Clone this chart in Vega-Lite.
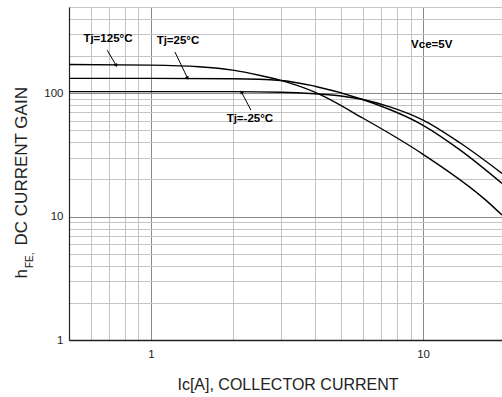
{
  "$schema": "https://vega.github.io/schema/vega-lite/v6.json",
  "width": 433,
  "height": 333,
  "autosize": {"type": "none"},
  "padding": {"left": 69, "top": 7, "right": 0, "bottom": 57},
  "background": "white",
  "config": {
    "view": {"stroke": null},
    "font": "Liberation Sans",
    "axis": {"labelFont": "Liberation Sans", "titleFont": "Liberation Sans"}
  },
  "datasets": {
    "curves": [
      {"series": "125", "ic": 0.5, "hfe": 171},
      {"series": "125", "ic": 1, "hfe": 169},
      {"series": "125", "ic": 1.5, "hfe": 164},
      {"series": "125", "ic": 2, "hfe": 154},
      {"series": "125", "ic": 2.5, "hfe": 140},
      {"series": "125", "ic": 3, "hfe": 127},
      {"series": "125", "ic": 4, "hfe": 102},
      {"series": "125", "ic": 6, "hfe": 63},
      {"series": "125", "ic": 10, "hfe": 32},
      {"series": "125", "ic": 17, "hfe": 13.6},
      {"series": "125", "ic": 19.5, "hfe": 10.3},
      {"series": "25", "ic": 0.5, "hfe": 132},
      {"series": "25", "ic": 1, "hfe": 132},
      {"series": "25", "ic": 2, "hfe": 131},
      {"series": "25", "ic": 3, "hfe": 127},
      {"series": "25", "ic": 4, "hfe": 114},
      {"series": "25", "ic": 6, "hfe": 89},
      {"series": "25", "ic": 10, "hfe": 55},
      {"series": "25", "ic": 13.7, "hfe": 34.6},
      {"series": "25", "ic": 19.5, "hfe": 18.6},
      {"series": "-25", "ic": 0.5, "hfe": 103},
      {"series": "-25", "ic": 1, "hfe": 103},
      {"series": "-25", "ic": 2, "hfe": 103},
      {"series": "-25", "ic": 3, "hfe": 102},
      {"series": "-25", "ic": 4, "hfe": 99},
      {"series": "-25", "ic": 5, "hfe": 95},
      {"series": "-25", "ic": 6, "hfe": 89},
      {"series": "-25", "ic": 7.5, "hfe": 78},
      {"series": "-25", "ic": 10, "hfe": 60.6},
      {"series": "-25", "ic": 13.7, "hfe": 39.5},
      {"series": "-25", "ic": 19.5, "hfe": 22.4}
    ],
    "labels": [
      {"text": "Tj=125°C", "x": 0.695, "y": 274},
      {"text": "Tj=25°C", "x": 1.257, "y": 264},
      {"text": "Tj=-25°C", "x": 2.31, "y": 61.7},
      {"text": "Vce=5V", "x": 10.76, "y": 247}
    ],
    "arrows": [
      {"label": "125", "x": 0.691, "y": 223, "x2": 0.744, "y2": 169},
      {"label": "25", "x": 1.225, "y": 216, "x2": 1.36, "y2": 134},
      {"label": "-25", "x": 2.33, "y": 73, "x2": 2.155, "y2": 101.5}
    ]
  },
  "resolve": {"scale": {"x": "shared", "y": "shared"}, "axis": {"x": "independent", "y": "independent"}},
  "layer": [
    {
      "data": {"name": "curves"},
      "mark": {"type": "line", "interpolate": "monotone", "color": "black", "strokeWidth": 1.4, "clip": true},
      "encoding": {
        "x": {
          "field": "ic", "type": "quantitative",
          "scale": {"type": "log", "domain": [0.5, 19.5], "nice": false},
          "axis": {
            "orient": "bottom",
            "values": [0.6, 0.7, 0.8, 0.9, 1, 2, 3, 4, 5, 6, 7, 8, 9, 10],
            "labelExpr": "datum.value == 1 ? '1' : datum.value == 10 ? '10' : ''",
            "grid": true,
            "gridColor": {"condition": {"test": "datum.value == 1 || datum.value == 10", "value": "#8a8a8a"}, "value": "#c4c4c4"},
            "gridWidth": 1,
            "ticks": false, "tickSize": 0,
            "labelPadding": 8, "labelFontSize": 11.5, "labelColor": "#222",
            "labelFlush": false, "labelOverlap": false,
            "domainColor": "#222", "domainWidth": 1.6,
            "title": "Ic[A], COLLECTOR CURRENT",
            "titleFontSize": 16, "titleFontWeight": "normal", "titleColor": "#222",
            "titleX": 218.5, "titleY": 49, "titleAlign": "center", "titleBaseline": "alphabetic"
          }
        },
        "y": {
          "field": "hfe", "type": "quantitative",
          "scale": {"type": "log", "domain": [1, 500], "nice": false},
          "axis": {
            "orient": "left",
            "values": [1, 2, 3, 4, 5, 6, 7, 8, 9, 10, 20, 30, 40, 50, 60, 70, 80, 90, 100, 200, 300, 400, 500],
            "labelExpr": "datum.value == 1 ? '1' : datum.value == 10 ? '10' : datum.value == 100 ? '100' : ''",
            "grid": true,
            "gridColor": {"condition": {"test": "datum.value == 1 || datum.value == 10 || datum.value == 100", "value": "#8a8a8a"}, "value": "#c4c4c4"},
            "gridWidth": 1,
            "ticks": false, "tickSize": 0,
            "labelPadding": 6, "labelFontSize": 11.5, "labelColor": "#222",
            "labelFlush": false, "labelOverlap": false,
            "domainColor": "#222", "domainWidth": 1.2,
            "title": "h\u00a0\u00a0\u00a0\u00a0\u00a0DC CURRENT GAIN",
            "titleFontSize": 17, "titleFontWeight": "normal", "titleColor": "#222",
            "titleAngle": -90, "titleAlign": "left", "titleBaseline": "alphabetic",
            "titleX": -42.5, "titleY": 271
          }
        },
        "detail": {"field": "series"}
      }
    },
    {
      "mark": {"type": "rule", "color": "#222", "strokeWidth": 1.2},
      "encoding": {
        "y": {
          "datum": 500, "type": "quantitative",
          "axis": {
            "orient": "left", "labels": false, "ticks": false, "domain": false, "grid": false,
            "title": "FE,", "titleFontSize": 10, "titleFontWeight": "normal", "titleColor": "#222",
            "titleAngle": -90, "titleAlign": "left", "titleBaseline": "alphabetic",
            "titleX": -37, "titleY": 260.5
          }
        }
      }
    },
    {
      "data": {"name": "arrows"},
      "mark": {"type": "rule", "color": "black", "strokeWidth": 1},
      "encoding": {
        "x": {"field": "x", "type": "quantitative", "axis": null},
        "y": {"field": "y", "type": "quantitative", "axis": null},
        "x2": {"field": "x2"},
        "y2": {"field": "y2"}
      }
    },
    {
      "data": {"name": "arrows"},
      "transform": [{"filter": "datum.label == '125'"}],
      "mark": {"type": "point", "shape": "triangle", "filled": true, "color": "black", "size": 16, "angle": 150, "opacity": 1},
      "encoding": {
        "x": {"field": "x2", "type": "quantitative", "axis": null},
        "y": {"field": "y2", "type": "quantitative", "axis": null}
      }
    },
    {
      "data": {"name": "arrows"},
      "transform": [{"filter": "datum.label == '25'"}],
      "mark": {"type": "point", "shape": "triangle", "filled": true, "color": "black", "size": 16, "angle": 154, "opacity": 1},
      "encoding": {
        "x": {"field": "x2", "type": "quantitative", "axis": null},
        "y": {"field": "y2", "type": "quantitative", "axis": null}
      }
    },
    {
      "data": {"name": "arrows"},
      "transform": [{"filter": "datum.label == '-25'"}],
      "mark": {"type": "point", "shape": "triangle", "filled": true, "color": "black", "size": 16, "angle": 332, "opacity": 1},
      "encoding": {
        "x": {"field": "x2", "type": "quantitative", "axis": null},
        "y": {"field": "y2", "type": "quantitative", "axis": null}
      }
    },
    {
      "data": {"name": "labels"},
      "mark": {"type": "text", "font": "Liberation Sans", "fontWeight": "bold", "fontSize": 11.5, "color": "black", "align": "center", "baseline": "middle"},
      "encoding": {
        "x": {"field": "x", "type": "quantitative", "axis": null},
        "y": {"field": "y", "type": "quantitative", "axis": null},
        "text": {"field": "text"}
      }
    }
  ]
}
